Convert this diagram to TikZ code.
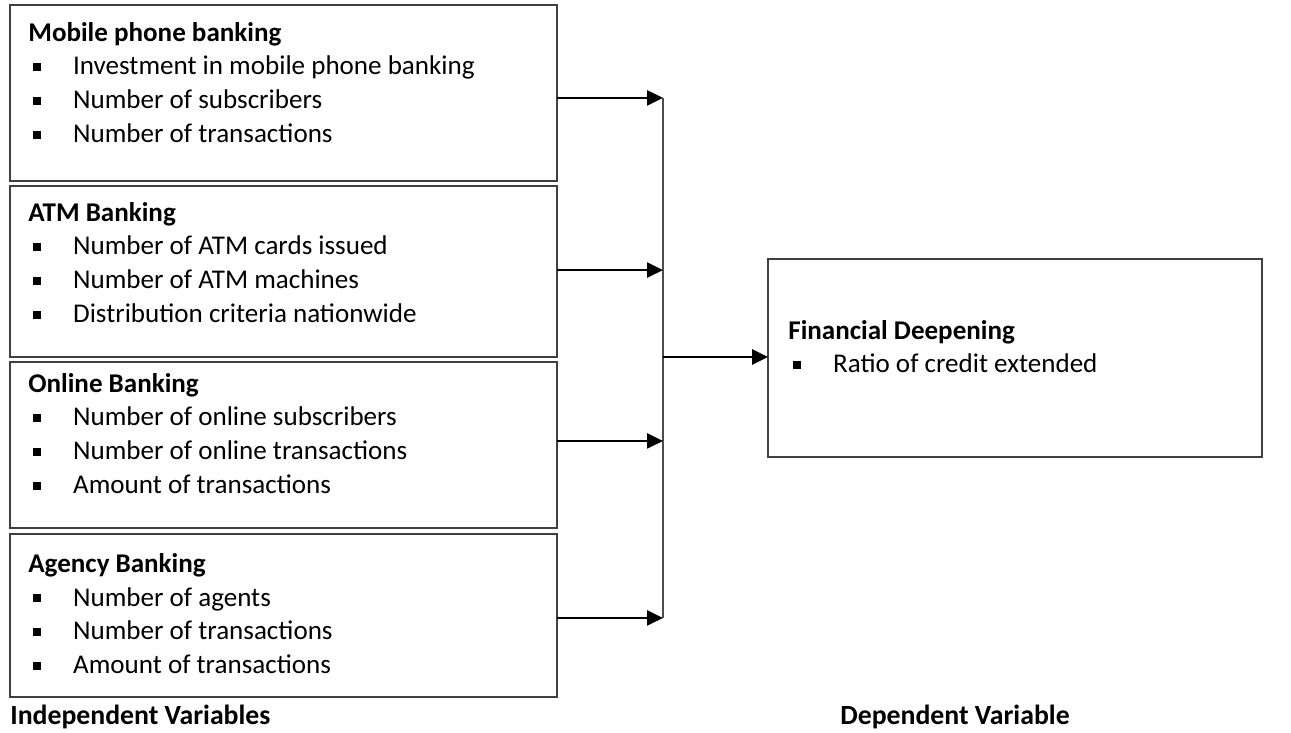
\documentclass[tikz,border=0pt]{standalone}
\usepackage{fontspec}
\setmainfont{Carlito}
\usetikzlibrary{
	arrows.meta,
	calc,
	positioning
}
\newcommand{\sqbullet}{\hspace*{2.8pt}\makebox[22.7pt][l]{\rule[2.4pt]{4.2pt}{4.2pt}}}

\begin{document}
\begin{tikzpicture} [
		x = 0.02cm,
		y = -0.02cm,
		varbox/.style = {
			rectangle,
			draw = black!75,
			line width = 0.7pt,
			anchor = north west,
			inner sep = 0pt,
			outer sep = 0pt,
		},
		vartext/.style = {
			anchor = north west,
			inner sep = 0pt,
			align = left,
			font = \fontsize{15.4}{19.3}\selectfont,
		},
		line/.style = {
			draw,
			line width = 1.3pt,
			-{Triangle[length = 9pt, width = 8.5pt]},
		},
		bus/.style = {
			draw = black!70,
			line width = 0.6pt,
		},
		caption/.style = {
			inner sep = 0pt,
			font = \fontsize{15.8}{19.3}\selectfont\bfseries,
		}
	]

	\useasboundingbox (0,0) rectangle (1291,733);

	% independent variables
	\node[varbox, minimum width = 10.94cm, minimum height = 3.52cm] (mobile) at (10,5) {};
	\node[varbox, minimum width = 10.94cm, minimum height = 3.42cm] (atm) at (10,186) {};
	\node[varbox, minimum width = 10.94cm, minimum height = 3.32cm] (online) at (10,362) {};
	\node[varbox, minimum width = 10.94cm, minimum height = 3.26cm] (agency) at (10,534) {};

	\node[vartext] (mobile-text) at ($(mobile.north west) + (18,12)$) {
		\strut\textbf{Mobile phone banking}\\
		\sqbullet Investment in mobile phone banking\\
		\sqbullet Number of subscribers\\
		\sqbullet Number of transactions
	};
	\node[vartext] (atm-text) at ($(atm.north west) + (18,11)$) {
		\strut\textbf{ATM Banking}\\
		\sqbullet Number of ATM cards issued\\
		\sqbullet Number of ATM machines\\
		\sqbullet Distribution criteria nationwide
	};
	\node[vartext] (online-text) at ($(online.north west) + (18,6)$) {
		\strut\textbf{Online Banking}\\
		\sqbullet Number of online subscribers\\
		\sqbullet Number of online transactions\\
		\sqbullet Amount of transactions
	};
	\node[vartext] (agency-text) at ($(agency.north west) + (18,14)$) {
		\strut\textbf{Agency Banking}\\
		\sqbullet Number of agents\\
		\sqbullet Number of transactions\\
		\sqbullet Amount of transactions
	};

	% dependent variable
	\node[varbox, minimum width = 9.88cm, minimum height = 3.96cm] (deepening) at (768,259) {};
	\node[vartext] (deepening-text) at ($(deepening.north west) + (20,56)$) {
		\strut\textbf{Financial Deepening}\\
		\sqbullet Ratio of credit extended
	};

	\node[caption, anchor = base west] (indep) at (10,724) {Independent Variables};
	\node[caption, anchor = base west] (dep) at (840,724) {Dependent Variable};

	% connectors
	\coordinate (join) at (663,357);

	\path[bus] ([yshift = -2.8pt]mobile.east -| join) -- ([yshift = -1.4pt]agency.east -| join);

	\begin{scope} [
			every path/.style = line
		]
		\path ([yshift = -2.8pt]mobile.east) -- ([yshift = -2.8pt]mobile.east -| join);
		\path ([yshift = 0.8pt]atm.east) -- ([yshift = 0.8pt]atm.east -| join);
		\path ([yshift = 2.3pt]online.east) -- ([yshift = 2.3pt]online.east -| join);
		\path ([yshift = -1.4pt]agency.east) -- ([yshift = -1.4pt]agency.east -| join);
		\path (join) -- (join -| deepening.west);
	\end{scope}
\end{tikzpicture}
\end{document}
